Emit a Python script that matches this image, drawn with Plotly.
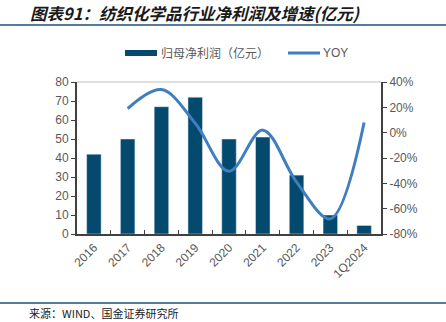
import plotly.graph_objects as go

categories = ["2016", "2017", "2018", "2019", "2020", "2021", "2022", "2023", "1Q2024"]
profit = [42, 50, 67, 72, 50, 51, 31, 10, 4.5]
yoy = [None, 19, 34, 7.5, -30.5, 2, -39, -68, 8]
bar_name = "归母净利润（亿元）"
line_name = "YOY"
left_ticks = [0, 10, 20, 30, 40, 50, 60, 70, 80]
right_ticks = [-80, -60, -40, -20, 0, 20, 40]

bar_color = "#044A6E"
line_color = "#3F7EC0"
tick_color = "#595959"
axis_color = "#404040"

fig = go.Figure()
fig.add_trace(go.Bar(x=categories, y=profit, name=bar_name, marker_color=bar_color,
                     showlegend=False))
fig.add_trace(go.Scatter(x=categories, y=yoy, name=line_name, mode="lines",
                         line=dict(color=line_color, width=3, shape="spline", smoothing=1.0),
                         yaxis="y2", showlegend=False, connectgaps=False))

tfont = dict(family="Liberation Sans, Arial", size=12, color=tick_color)
fig.update_layout(
    width=446, height=322,
    margin=dict(l=77, r=65, t=82, b=88),
    paper_bgcolor="white", plot_bgcolor="white",
    bargap=0.57,
    xaxis=dict(tickangle=-45, tickfont=dict(family="Liberation Sans, Arial", size=12, color=tick_color),
               showline=True, linecolor=axis_color, linewidth=2, ticks="inside",
               tickson="boundaries", ticklen=4, tickcolor=axis_color, mirror=False),
    yaxis=dict(range=[0, 80], tickvals=left_ticks, tickfont=tfont, showgrid=False,
               showline=True, linecolor=axis_color, linewidth=2, ticks="outside",
               ticklen=4, tickcolor=axis_color, zeroline=False),
    yaxis2=dict(range=[-80, 40], tickvals=right_ticks, ticktext=[f"{v}%" for v in right_ticks],
                tickfont=tfont, overlaying="y", side="right", showgrid=False,
                showline=True, linecolor=axis_color, linewidth=2, ticks="outside",
                ticklen=4, tickcolor=axis_color, zeroline=False),
    showlegend=False,
)

# top border of plot area
fig.add_shape(type="line", xref="paper", yref="paper", x0=0, x1=1, y0=1, y1=1,
              line=dict(color="#BFBFBF", width=1))

# title and separators
fig.add_annotation(text="<b><i>图表91：纺织化学品行业净利润及增速(亿元)</i></b>",
                   xref="paper", yref="paper", x=(28-77)/304, y=1+(82-13)/152,
                   xanchor="left", yanchor="middle", showarrow=False,
                   font=dict(family="Noto Sans CJK SC", size=16.5, color="#1a1a1a"))
fig.add_shape(type="line", xref="paper", yref="paper", x0=-77/304, x1=(446-77)/304,
              y0=1+(82-25)/152, y1=1+(82-25)/152, line=dict(color="#1F4E79", width=1.5))
fig.add_shape(type="line", xref="paper", yref="paper", x0=-77/304, x1=(446-77)/304,
              y0=-(303-234)/152, y1=-(303-234)/152, line=dict(color="#1F4E79", width=1.5))
fig.add_annotation(text="来源：WIND、国金证券研究所", xref="paper", yref="paper",
                   x=(27-77)/304, y=-(313-234)/152, xanchor="left", yanchor="middle",
                   showarrow=False, font=dict(family="Noto Sans CJK SC", size=11, color="#222222"))

# legend (manual)
ly = 1 + (82-53)/152
fig.add_shape(type="line", xref="paper", yref="paper", x0=(125-77)/304, x1=(157-77)/304,
              y0=ly, y1=ly, line=dict(color=bar_color, width=6))
fig.add_annotation(text=bar_name, xref="paper", yref="paper", x=(159-77)/304, y=ly,
                   xanchor="left", yanchor="middle", showarrow=False,
                   font=dict(family="Noto Sans CJK SC", size=12, color=tick_color))
fig.add_shape(type="line", xref="paper", yref="paper", x0=(288-77)/304, x1=(320-77)/304,
              y0=ly, y1=ly, line=dict(color=line_color, width=3))
fig.add_annotation(text=line_name, xref="paper", yref="paper", x=(321-77)/304, y=ly,
                   xanchor="left", yanchor="middle", showarrow=False,
                   font=dict(family="Liberation Sans, Arial", size=12, color=tick_color))

fig.write_html("out.html")
